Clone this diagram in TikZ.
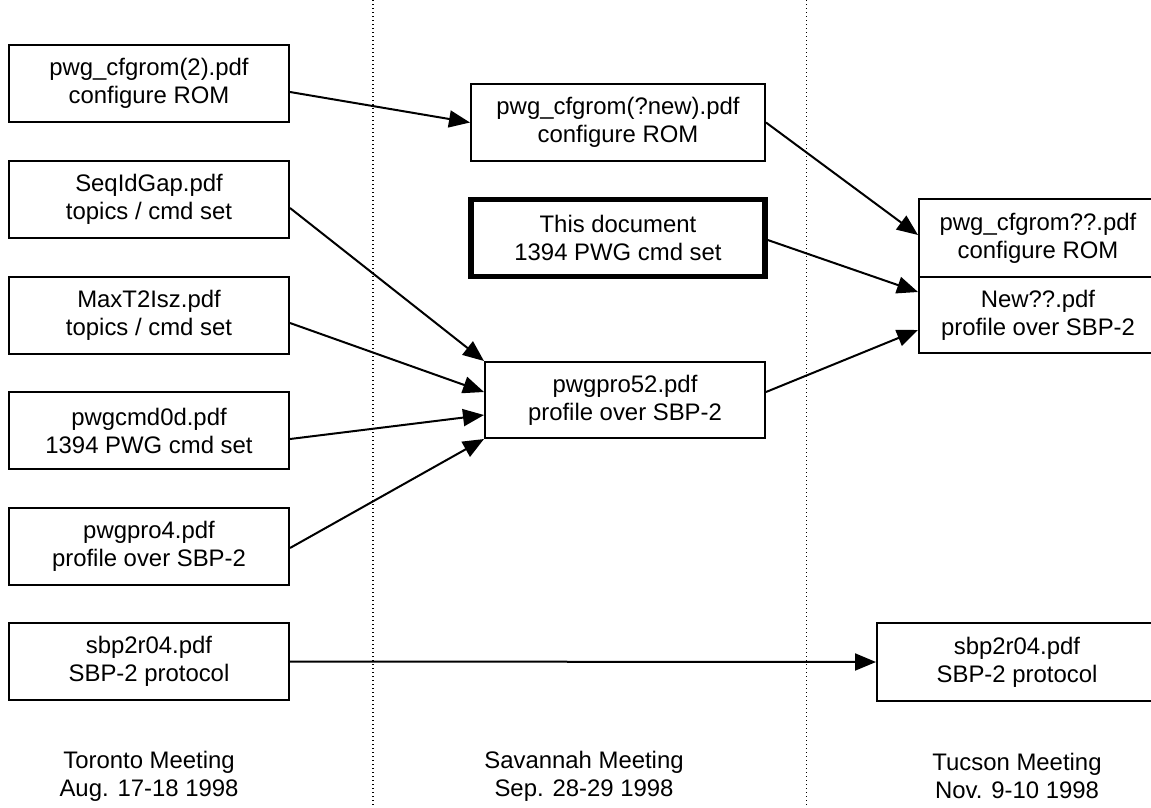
\documentclass[tikz,border=0pt]{standalone}
\usepackage{fontspec}
\setmainfont{Liberation Sans}
\usetikzlibrary{arrows.meta,calc}
\begin{document}
\begin{tikzpicture}[x=1pt,y=-1pt,
  doc/.style={draw, line width=2pt, inner sep=0pt, align=center,
    font=\fontsize{23.9}{28}\selectfont},
  keydoc/.style={doc, line width=5.5pt},
  link/.style={line width=2pt, -{Triangle[length=21pt,width=17pt]}},
  sep/.style={line width=1.3pt, dash pattern=on 1.3pt off 2.7pt},
  meeting/.style={align=center, inner sep=0pt, font=\fontsize{23.9}{28}\selectfont}]

% canvas
\clip (0,0) rectangle (1151,807);
\fill[white] (0,0) rectangle (1151,807);

% column separators
\draw[sep] (373,0) -- (373,807);
\draw[sep] (806.5,0) -- (806.5,807);

% Toronto column
\node[doc, minimum width=280, minimum height=77] (t1) at (149,83.5) {pwg\_cfgrom(2).pdf\\configure ROM};
\node[doc, minimum width=280, minimum height=77] (t2) at (149,199.5) {SeqIdGap.pdf\\topics / cmd set};
\node[doc, minimum width=280, minimum height=77] (t3) at (149,315) {MaxT2Isz.pdf\\topics / cmd set};
\node[doc, minimum width=280, minimum height=77] (t4) at (149,430.5) {pwgcmd0d.pdf\\1394 PWG cmd set};
\node[doc, minimum width=280, minimum height=77] (t5) at (149,546) {pwgpro4.pdf\\profile over SBP-2};
\node[doc, minimum width=280, minimum height=77] (t6) at (149,661.5) {sbp2r04.pdf\\SBP-2 protocol};

% Savannah column
\node[doc, minimum width=294, minimum height=77] (s1) at (618,122.5) {pwg\_cfgrom(?new).pdf\\configure ROM};
\node[keydoc, minimum width=294, minimum height=77] (s2) at (618,238) {This document\\1394 PWG cmd set};
\node[doc, minimum width=280, minimum height=76] (s3) at (625,400) {pwgpro52.pdf\\profile over SBP-2};

% Tucson column
\node[doc, minimum width=238, minimum height=78] (u1) at (1038,238) {pwg\_cfgrom??.pdf\\configure ROM};
\node[doc, minimum width=238, minimum height=76] (u2) at (1038,315) {New??.pdf\\profile over SBP-2};
\node[doc, minimum width=280, minimum height=78] (u3) at (1017,662) {sbp2r04.pdf\\SBP-2 protocol};

% meeting captions
\node[meeting] (m1) at (149,776) {Toronto Meeting\\Aug. 17-18 1998};
\node[meeting] (m2) at (584,776) {Savannah Meeting\\Sep. 28-29 1998};
\node[meeting] (m3) at (1017,776) {Tucson Meeting\\Nov. 9-10 1998};

% document lineage
\draw[link] ($(t1.east)+(0,8.5)$) -- (s1.west);
\draw[link] (s1.east) -- ($(u1.west)+(0,-3)$);
\draw[link] ($(s2.east)+(0,2)$) -- ($(u2.west)+(0,-23)$);
\draw[link] ($(s3.east)+(0,-8)$) -- ($(u2.west)+(0,15)$);
\draw[link] ($(t2.east)+(0,8.5)$) -- (s3.north west);
\draw[link] ($(t3.east)+(0,8)$) -- ($(s3.west)+(0,-8)$);
\draw[link] ($(t4.east)+(0,8.5)$) -- ($(s3.west)+(0,15)$);
\draw[link] ($(t5.east)+(0,2)$) -- (s3.south west);
\draw[link] (t6.east) -- (u3.west);
\end{tikzpicture}
\end{document}
